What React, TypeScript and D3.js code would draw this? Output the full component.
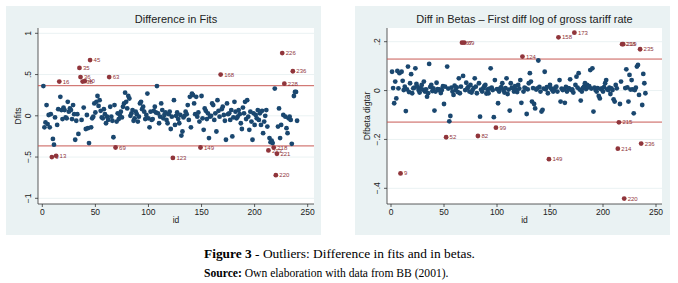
import React from 'react';
import * as d3 from 'd3';

// Dfits by id (1..240)
const dfits: number[] = [
  0.36, -0.14, -0.08, 0.13, -0.10, 0.01, -0.14, 0.02, -0.50, -0.28,
  -0.35, -0.02, -0.485, -0.11, 0.08, 0.415, 0.23, 0.07, -0.04, 0.10,
  0.07, -0.02, -0.03, 0.17, 0.05, 0.09, 0.07, -0.04, 0.13, 0.02,
  -0.29, -0.06, 0.02, -0.22, 0.58, 0.47, -0.05, 0.415, 0.10, 0.42,
  -0.16, 0.01, -0.15, -0.33, 0.675, -0.14, -0.03, -0.01, 0.15, 0.04,
  0.17, 0.24, 0.12, 0.19, 0.06, -0.02, -0.03, 0.08, 0.02, -0.09,
  -0.01, -0.05, 0.47, 0.11, -0.01, -0.06, -0.26, 0.13, -0.384, -0.07,
  0.03, -0.04, 0.01, 0.05, -0.02, 0.11, 0.15, 0.28, 0.17, 0.09,
  0.24, 0.21, 0.00, 0.03, 0.07, -0.06, -0.03, 0.05, 0.02, -0.07,
  -0.01, 0.15, 0.17, 0.08, 0.11, 0.05, -0.04, 0.01, 0.27, -0.03,
  -0.14, 0.05, -0.05, -0.04, 0.06, 0.11, 0.04, 0.36, 0.03, -0.09,
  -0.01, 0.15, 0.07, -0.03, 0.01, 0.04, -0.05, -0.09, 0.02, 0.05,
  -0.16, -0.01, -0.51, 0.19, -0.11, 0.00, 0.04, -0.04, -0.09, 0.01,
  -0.24, -0.19, -0.02, 0.00, 0.05, 0.02, 0.13, -0.05, 0.23, -0.14,
  0.27, 0.25, 0.15, 0.02, 0.23, -0.01, 0.04, -0.07, -0.384, 0.24,
  -0.03, -0.17, 0.09, 0.06, -0.04, 0.03, -0.27, -0.01, 0.00, 0.15,
  0.13, -0.05, 0.03, -0.19, 0.19, 0.06, -0.01, 0.50, 0.08, 0.11,
  0.01, -0.06, -0.29, 0.15, 0.02, 0.03, -0.05, 0.07, -0.25, -0.02,
  0.17, 0.05, -0.03, -0.01, 0.07, 0.02, -0.09, -0.16, 0.10, 0.03,
  0.17, -0.04, 0.19, -0.01, -0.17, 0.05, -0.07, -0.29, 0.03, -0.11,
  0.01, -0.03, 0.07, -0.05, 0.03, -0.11, 0.06, -0.21, -0.07, 0.00,
  0.07, -0.13, -0.42, -0.27, -0.32, -0.30, -0.33, -0.385, 0.33, -0.72,
  -0.46, -0.13, 0.09, -0.27, -0.11, 0.76, 0.01, 0.39, -0.01, -0.15,
  -0.21, -0.03, -0.01, -0.05, -0.34, 0.54, 0.24, 0.29, 0.29, -0.06,
];

// Dfbeta digtar by id (1..240)
const dfbeta: number[] = [
  0.077, 0.010, -0.052, 0.037, -0.032, 0.080, 0.009, 0.071, -0.339, 0.077,
  0.040, 0.002, 0.016, -0.084, 0.005, 0.098, -0.006, 0.030, 0.067, -0.011,
  0.009, 0.012, 0.091, 0.027, 0.016, 0.002, -0.008, 0.009, 0.023, 0.004,
  0.037, -0.004, 0.005, -0.025, -0.011, 0.109, 0.015, 0.023, -0.002, 0.009,
  -0.082, -0.004, 0.032, 0.006, 0.002, 0.005, -0.010, 0.002, 0.018, -0.055,
  0.016, -0.191, 0.098, 0.008, -0.126, -0.104, 0.012, -0.004, -0.018, 0.020,
  0.002, 0.013, -0.006, 0.050, -0.011, 0.016, 0.196, 0.060, 0.196, 0.002,
  0.032, 0.009, 0.015, -0.004, 0.023, -0.008, 0.002, 0.010, 0.050, 0.016,
  -0.011, -0.186, 0.030, -0.107, 0.004, -0.004, 0.009, 0.018, 0.023, -0.012,
  0.005, -0.011, 0.008, 0.091, 0.012, 0.002, -0.109, 0.043, -0.152, 0.006,
  -0.052, -0.004, 0.009, 0.014, 0.030, 0.002, -0.008, 0.010, 0.050, -0.014,
  0.004, -0.082, 0.030, 0.012, 0.009, -0.004, 0.018, 0.002, -0.006, 0.023,
  0.008, 0.043, -0.050, 0.139, -0.004, 0.012, 0.009, -0.096, 0.005, 0.030,
  0.071, 0.037, -0.045, 0.010, -0.055, -0.073, 0.004, 0.009, 0.123, 0.015,
  -0.004, -0.086, -0.079, 0.008, 0.077, 0.005, 0.014, -0.011, -0.281, 0.023,
  0.009, 0.003, -0.004, 0.002, 0.012, 0.016, -0.004, 0.218, 0.043, -0.045,
  0.008, 0.002, 0.005, -0.050, 0.015, -0.004, 0.010, 0.009, 0.046, 0.002,
  0.005, -0.008, 0.237, 0.023, 0.057, 0.012, 0.071, 0.004, -0.041, -0.004,
  0.010, 0.016, 0.030, 0.006, 0.023, 0.013, 0.018, 0.084, 0.008, 0.091,
  -0.086, 0.012, 0.002, -0.004, 0.010, -0.022, -0.032, 0.006, 0.009, -0.004,
  0.014, 0.030, 0.043, 0.005, 0.002, 0.012, -0.014, 0.009, 0.002, -0.036,
  -0.045, 0.023, 0.009, -0.238, -0.130, -0.055, 0.037, 0.190, 0.190, -0.442,
  0.010, 0.087, 0.013, -0.045, 0.064, 0.004, 0.043, 0.005, -0.093, 0.002,
  0.012, 0.098, 0.105, -0.018, 0.169, -0.217, -0.059, 0.068, 0.030, -0.011,
];

const xTicks = [0, 50, 100, 150, 200, 250];
const dfitsTicks = [1, 0.5, 0, -0.5, -1];
const dfitsTickLabels = ['1', '.5', '0', '\u2212.5', '\u22121'];
const dfbetaTicks = [0.2, 0, -0.2, -0.4];
const dfbetaTickLabels = ['.2', '0', '\u2212.2', '\u2212.4'];
const dfitsCut = 0.365;
const dfbetaCut = 0.129;

const BG = '#EAF2F3';
const NAVY = '#1A476F';
const MAROON = '#90353B';
const LINE_RED = '#C85A55';
const SANS = '"Liberation Sans", Arial, sans-serif';
const SERIF = '"Liberation Serif", "Times New Roman", serif';

type PanelProps = {
  frame: { x: number; y: number; w: number; h: number };
  plot: { x0: number; x1: number; y0: number; y1: number };
  xRange: [number, number];
  yDomain: [number, number];
  yRange: [number, number];
  title: string;
  ytitle: string;
  values: number[];
  yTicks: number[];
  yTickLabels: string[];
  cutoff: number;
};

function Panel(p: PanelProps) {
  const x = d3.scaleLinear().domain([0, 250]).range(p.xRange);
  const y = d3.scaleLinear().domain(p.yDomain).range(p.yRange);
  const pts = p.values.map((v, i) => ({ id: i + 1, v }));
  const normal = pts.filter((d) => Math.abs(d.v) <= p.cutoff);
  const outl = pts.filter((d) => Math.abs(d.v) > p.cutoff);
  const { x0, x1, y0, y1 } = p.plot;
  const cx = (x0 + x1) / 2;
  const cy = (y0 + y1) / 2;
  const tickLabX = x0 - 10;
  const yTitleX = x0 - 20;
  return (
    <g>
      <rect x={p.frame.x} y={p.frame.y} width={p.frame.w} height={p.frame.h} fill={BG} />
      <rect x={x0} y={y0} width={x1 - x0} height={y1 - y0} fill="#ffffff" />
      {p.yTicks.map((t) => (
        <line key={'g' + t} x1={x0} x2={x1} y1={y(t)} y2={y(t)} stroke={BG} strokeWidth={1} />
      ))}
      <text x={cx} y={23} textAnchor="middle" fontFamily={SANS} fontSize={11} fill="#222">
        {p.title}
      </text>
      {/* y axis */}
      <line x1={x0} x2={x0} y1={y0} y2={y1} stroke="#333" strokeWidth={0.8} />
      {p.yTicks.map((t, i) => (
        <g key={'yt' + t}>
          <line x1={x0 - 3} x2={x0} y1={y(t)} y2={y(t)} stroke="#333" strokeWidth={0.8} />
          <text
            x={tickLabX}
            y={y(t)}
            dy="0.35em"
            textAnchor="middle"
            transform={`rotate(-90, ${tickLabX}, ${y(t)})`}
            fontFamily={SANS}
            fontSize={8.5}
            fill="#222"
          >
            {p.yTickLabels[i]}
          </text>
        </g>
      ))}
      <text
        x={yTitleX}
        y={cy}
        dy="0.35em"
        textAnchor="middle"
        transform={`rotate(-90, ${yTitleX}, ${cy})`}
        fontFamily={SANS}
        fontSize={8.5}
        fill="#222"
      >
        {p.ytitle}
      </text>
      {/* x axis */}
      <line x1={x0} x2={x1} y1={y1} y2={y1} stroke="#333" strokeWidth={0.8} />
      {xTicks.map((t) => (
        <g key={'xt' + t}>
          <line x1={x(t)} x2={x(t)} y1={y1} y2={y1 + 3} stroke="#333" strokeWidth={0.8} />
          <text x={x(t)} y={y1 + 11} textAnchor="middle" fontFamily={SANS} fontSize={8.5} fill="#222">
            {t}
          </text>
        </g>
      ))}
      <text x={cx} y={y1 + 19} textAnchor="middle" fontFamily={SANS} fontSize={8.5} fill="#222">
        id
      </text>
      {/* cutoff lines */}
      {[p.cutoff, -p.cutoff].map((c) => (
        <line key={'c' + c} x1={x0} x2={x1} y1={y(c)} y2={y(c)} stroke={LINE_RED} strokeWidth={1} />
      ))}
      {normal.map((d) => (
        <circle key={'n' + d.id} cx={x(d.id)} cy={y(d.v)} r={2.4} fill={NAVY} />
      ))}
      {outl.map((d) => (
        <text
          key={'l' + d.id}
          x={x(d.id) + 3.5}
          y={y(d.v)}
          dy="0.35em"
          fontFamily={SANS}
          fontSize={6}
          fill={MAROON}
        >
          {d.id}
        </text>
      ))}
      {outl.map((d) => (
        <circle key={'o' + d.id} cx={x(d.id)} cy={y(d.v)} r={2.4} fill={MAROON} />
      ))}
    </g>
  );
}

export default function App() {
  return (
    <svg
      width={678}
      height={283}
      style={{ position: 'absolute', left: 0, top: 0, background: '#fff' }}
    >
      <rect x={0} y={0} width={678} height={283} fill="#fff" />
      <Panel
        frame={{ x: 6, y: 6, w: 315, h: 229 }}
        plot={{ x0: 38, x1: 314, y0: 28, y1: 204 }}
        xRange={[42.3, 307.7]}
        yDomain={[-1, 1]}
        yRange={[198.3, 33.3]}
        title="Difference in Fits"
        ytitle="Dfits"
        values={dfits}
        yTicks={dfitsTicks}
        yTickLabels={dfitsTickLabels}
        cutoff={dfitsCut}
      />
      <Panel
        frame={{ x: 355, y: 6, w: 315, h: 229 }}
        plot={{ x0: 387, x1: 662, y0: 28, y1: 204 }}
        xRange={[391, 656]}
        yDomain={[-0.4, 0.2]}
        yRange={[188.3, 41.7]}
        title={'Diff in Betas \u2013 First diff log of gross tariff rate'}
        ytitle="Dfbeta digtar"
        values={dfbeta}
        yTicks={dfbetaTicks}
        yTickLabels={dfbetaTickLabels}
        cutoff={dfbetaCut}
      />
      <text x={204} y={257.5} fontFamily={SERIF} fontSize={13.4} fill="#000">
        <tspan fontWeight="bold">Figure 3</tspan>
        <tspan> - Outliers: Difference in fits and in betas.</tspan>
      </text>
      <text x={204} y={277} fontFamily={SERIF} fontSize={11.6} fill="#000">
        <tspan fontWeight="bold">Source:</tspan>
        <tspan> Own elaboration with data from BB (2001).</tspan>
      </text>
    </svg>
  );
}
